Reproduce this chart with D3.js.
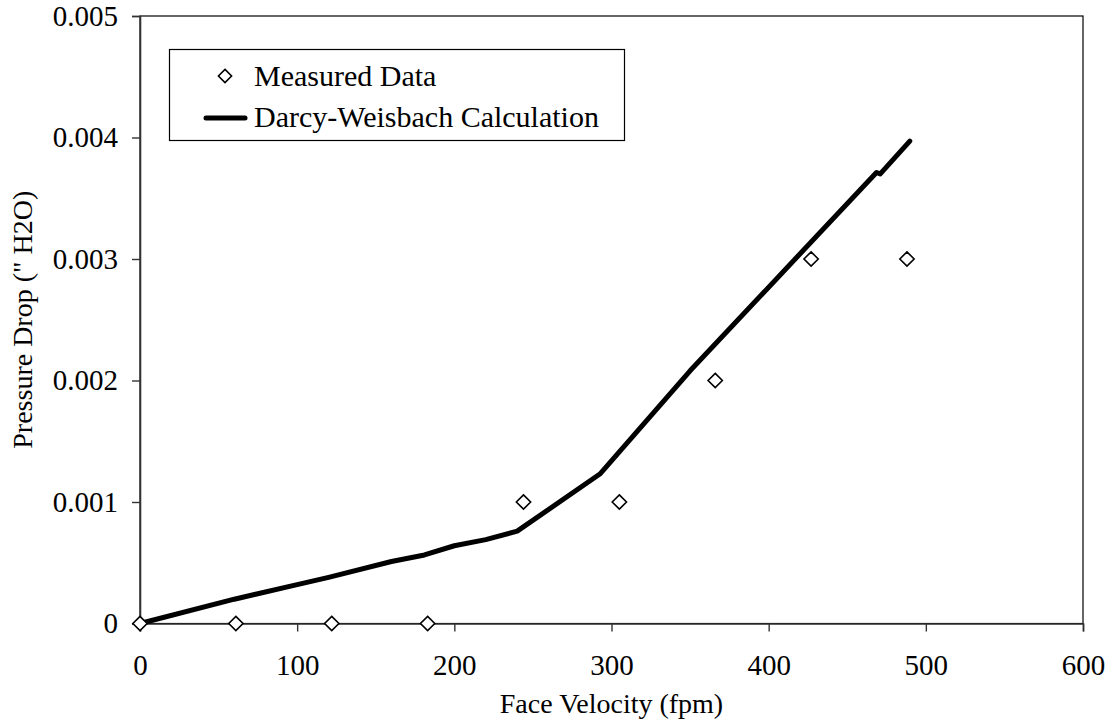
<!DOCTYPE html>
<html><head><meta charset="utf-8">
<script src="https://cdn.jsdelivr.net/npm/d3@7"></script>
<style>body{margin:0;background:#fff}svg{display:block}</style>
</head><body><svg id="c" width="1116" height="725"></svg>
<script>
// Measured data
const measuredVelocity = [0, 61, 122, 183, 244, 305, 366, 427, 488];
const measuredDrop = [0, 0, 0, 0, 0.001, 0.001, 0.002, 0.003, 0.003];
// Darcy-Weisbach calculation
const calcVelocity = [0, 60, 100, 120, 160, 181, 200, 220, 240, 292.6, 350, 468.6, 471, 489.8];
const calcDrop = [0, 0.0002, 0.00032, 0.00038, 0.00051, 0.000564, 0.00064, 0.00069, 0.00076, 0.00123, 0.00208, 0.003712, 0.003700, 0.00397];
const xTicks = [0, 100, 200, 300, 400, 500, 600];
const yTicks = [0, 0.001, 0.002, 0.003, 0.004, 0.005];
const xTitle = "Face Velocity (fpm)";
const yTitle = "Pressure Drop (\" H2O)";
const legendLabels = ["Measured Data", "Darcy-Weisbach Calculation"];

const FONT = '"Liberation Serif", "Times New Roman", Times, serif';
const svg = d3.select("#c");
const L = 140, R = 1083, T = 16, B = 623.5;
const x = d3.scaleLinear().domain([0, 600]).range([L, R]);
const y = d3.scaleLinear().domain([0, 0.005]).range([B, T]);

// frame
svg.append("rect").attr("x", L).attr("y", T).attr("width", R - L).attr("height", B - T)
  .attr("fill", "none").attr("stroke", "#000").attr("stroke-width", 1.2);

const xa = svg.append("g").attr("transform", `translate(0,${B})`)
  .call(d3.axisBottom(x).tickValues(xTicks).tickSize(8).tickPadding(23).tickFormat(d3.format("d")));
const ya = svg.append("g").attr("transform", `translate(${L},0)`)
  .call(d3.axisLeft(y).tickValues(yTicks).tickSize(8).tickPadding(14).tickFormat(d => d === 0 ? "0" : d3.format(".3f")(d)));
[xa, ya].forEach(a => {
  a.attr("font-family", null).attr("font-size", null);
  a.selectAll("path").attr("stroke", "#333").attr("stroke-width", 1.6);
  a.selectAll("line").attr("stroke", "#333").attr("stroke-width", 1.4);
  a.selectAll("text").style("font-size", "29px").style("font-family", FONT).attr("fill", "#000");
});

// line
const line = d3.line().x(i => x(calcVelocity[i])).y(i => y(calcDrop[i]));
svg.append("path").attr("d", line(d3.range(calcVelocity.length)))
  .attr("fill", "none").attr("stroke", "#000").attr("stroke-width", 5)
  .attr("stroke-linejoin", "round").attr("stroke-linecap", "round");

// diamonds
const sym = d3.symbol().type(d3.symbolDiamond2).size(130);
svg.append("g").selectAll("path").data(measuredVelocity).join("path")
  .attr("transform", (d, i) => `translate(${x(d)},${y(measuredDrop[i])})`)
  .attr("d", sym).attr("fill", "#fff").attr("stroke", "#000").attr("stroke-width", 1.6);

// titles
svg.append("text").attr("x", (L + R) / 2).attr("y", 713).attr("text-anchor", "middle")
  .style("font-family", FONT).style("font-size", "28px").text(xTitle);
svg.append("text").attr("transform", `translate(31.5,${(T + B) / 2}) rotate(-90)`)
  .attr("text-anchor", "middle").style("font-family", FONT).style("font-size", "28px").text(yTitle);

// legend
const lg = svg.append("g");
lg.append("rect").attr("x", 169.5).attr("y", 49.5).attr("width", 455).attr("height", 91)
  .attr("fill", "#fff").attr("stroke", "#000").attr("stroke-width", 1.2);
lg.append("path").attr("transform", "translate(225,76)").attr("d", d3.symbol().type(d3.symbolDiamond2).size(110))
  .attr("fill", "#fff").attr("stroke", "#000").attr("stroke-width", 1.6);
lg.append("line").attr("x1", 206).attr("x2", 245).attr("y1", 118).attr("y2", 118)
  .attr("stroke", "#000").attr("stroke-width", 5).attr("stroke-linecap", "round");
lg.append("text").attr("x", 254).attr("y", 86).style("font-family", FONT).style("font-size", "30px").text(legendLabels[0]);
lg.append("text").attr("x", 254).attr("y", 127).style("font-family", FONT).style("font-size", "30px").text(legendLabels[1]);
</script></body></html>
